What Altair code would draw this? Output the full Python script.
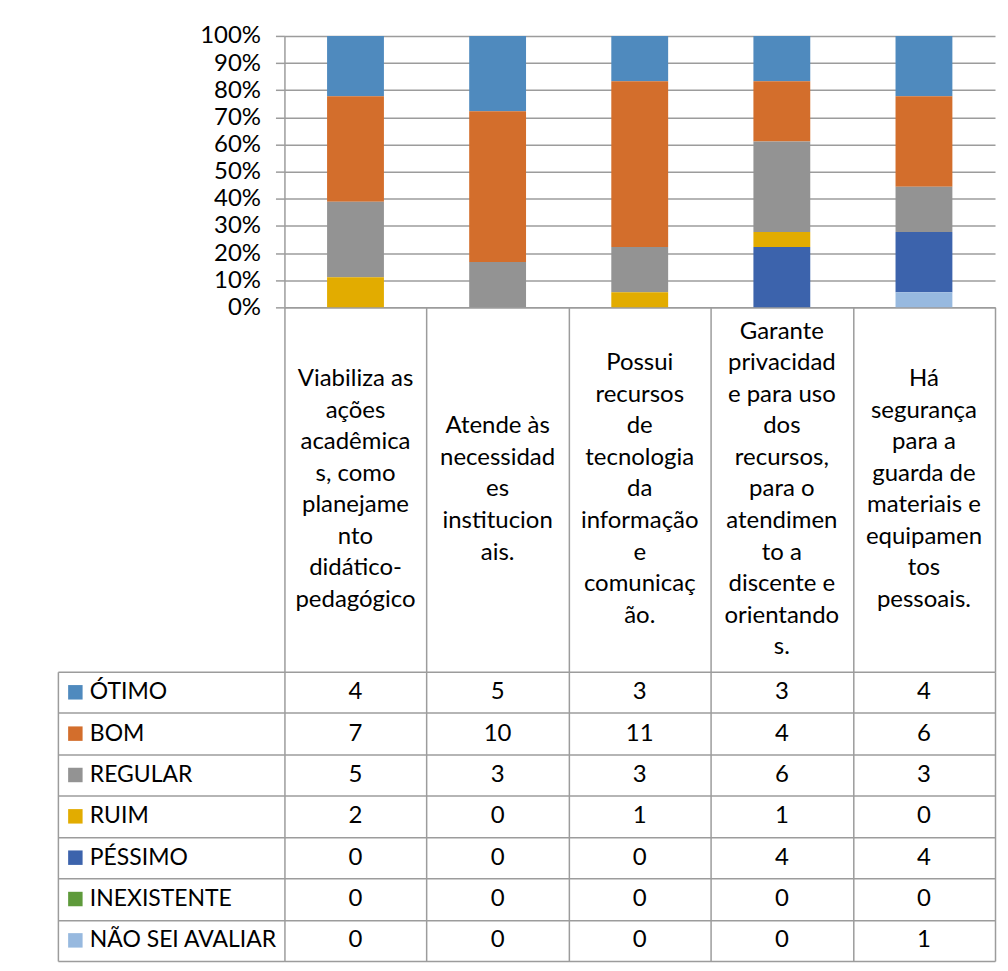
import altair as alt
import pandas as pd

# ---- data ----
categories = [
    "Viabiliza as\nações\nacadêmica\ns, como\nplanejame\nnto\ndidático-\npedagógico",
    "Atende às\nnecessidad\nes\ninstitucion\nais.",
    "Possui\nrecursos\nde\ntecnologia\nda\ninformação\ne\ncomunicaç\não.",
    "Garante\nprivacidad\ne para uso\ndos\nrecursos,\npara o\natendimen\nto a\ndiscente e\norientando\ns.",
    "Há\nsegurança\npara a\nguarda de\nmateriais e\nequipamen\ntos\npessoais.",
]
series = ["ÓTIMO", "BOM", "REGULAR", "RUIM", "PÉSSIMO", "INEXISTENTE", "NÃO SEI AVALIAR"]
otimo = [4, 5, 3, 3, 4]
bom = [7, 10, 11, 4, 6]
regular = [5, 3, 3, 6, 3]
ruim = [2, 0, 1, 1, 0]
pessimo = [0, 0, 0, 4, 4]
inexistente = [0, 0, 0, 0, 0]
nao_sei = [0, 0, 0, 0, 1]
colors = ["#4F8ABE", "#D36E2C", "#939393", "#E2AC00", "#3C63AC", "#5E9A3B", "#97B9DF"]

values_by_series = [otimo, bom, regular, ruim, pessimo, inexistente, nao_sei]
rows = []
for si, (s, vals) in enumerate(zip(series, values_by_series)):
    for c, v in zip(categories, vals):
        rows.append({"category": c, "series": s, "value": v, "rank": si})
df = pd.DataFrame(rows)

# one row per wrapped line of each category label
line_rows = []
for c in categories:
    parts = c.split("\n")
    for i, p in enumerate(parts):
        line_rows.append({"category": c, "line": p, "idx": i, "n": len(parts)})
lines_df = pd.DataFrame(line_rows)

FONT = "Lato"
FS = 24
LINE = "#9c9c9c"
LW = 1.5
LINE_H = 31.6
HDR_H = 365

color_scale = alt.Scale(domain=series, range=colors)

def spacer(h):
    return alt.Chart(pd.DataFrame({"a": [0]})).mark_point(opacity=0).properties(width=227, height=h)

# ---- stacked 100% bars ----
bars = alt.Chart(df).mark_bar().encode(
    x=alt.X("category:N", sort=categories,
            scale=alt.Scale(paddingInner=0.6, paddingOuter=0.3),
            axis=alt.Axis(labels=False, ticks=False, domain=True, domainColor=LINE,
                          domainWidth=LW, title=None)),
    y=alt.Y("value:Q", stack="normalize",
            scale=alt.Scale(domain=[0, 1]),
            axis=alt.Axis(format="%", values=[i / 10 for i in range(11)], tickSize=9,
                          tickColor=LINE, tickWidth=LW, gridColor=LINE, gridWidth=LW,
                          domainColor=LINE, domainWidth=LW, labelFont=FONT,
                          labelFontSize=FS, labelColor="black", labelPadding=15,
                          title=None)),
    color=alt.Color("series:N", scale=color_scale, legend=None),
    order=alt.Order("rank:Q", sort="descending"),
).properties(width=712, height=272)

# ---- header cells (category labels) ----
grid_x = alt.Axis(grid=True, tickBand="extent", labels=False, ticks=False, domain=False,
                  gridColor=LINE, gridWidth=LW, title=None)
grid_y = alt.Axis(grid=True, tickBand="extent", labels=False, ticks=False, domain=False,
                  gridColor=LINE, gridWidth=LW, title=None)

half = HDR_H / LINE_H / 2
header = alt.Chart(lines_df).transform_calculate(
    pos="(datum.n - 1) / 2 - datum.idx"
).mark_text(
    font=FONT, fontSize=FS, color="black", baseline="middle"
).encode(
    x=alt.X("category:N", sort=categories, scale=alt.Scale(paddingInner=0, paddingOuter=0), axis=grid_x),
    y=alt.Y("pos:Q", scale=alt.Scale(domain=[-half, half], nice=False, zero=False), axis=None),
    text="line:N",
).properties(width=712, height=HDR_H)

# ---- legend column ----
leg_base = alt.Chart(pd.DataFrame({"series": series})).encode(
    y=alt.Y("series:N", sort=series, scale=alt.Scale(paddingInner=0, paddingOuter=0),
            axis=alt.Axis(grid=True, tickBand="extent", labels=False, ticks=False, domain=True,
                          domainColor=LINE, domainWidth=LW, gridColor=LINE, gridWidth=LW,
                          title=None)),
)
swatch = leg_base.mark_square(size=210, opacity=1).encode(
    x=alt.value(17.5),
    color=alt.Color("series:N", scale=color_scale, legend=None),
)
leg_text = leg_base.mark_text(align="left", baseline="middle", font=FONT, fontSize=23, color="black").encode(
    x=alt.value(32),
    text="series:N",
)
legcol = alt.layer(swatch, leg_text).properties(width=227, height=290)

# ---- values table ----
table = alt.Chart(df).mark_text(font=FONT, fontSize=FS, color="black", baseline="middle").encode(
    x=alt.X("category:N", sort=categories, scale=alt.Scale(paddingInner=0, paddingOuter=0), axis=grid_x),
    y=alt.Y("series:N", sort=series, scale=alt.Scale(paddingInner=0, paddingOuter=0), axis=grid_y),
    text="value:Q",
).properties(width=712, height=290)

chart = alt.concat(
    spacer(272), bars,
    spacer(HDR_H), header,
    legcol, table,
    columns=2, spacing=0, bounds="flush", align="each",
).properties(
    padding={"left": 50, "top": 15, "right": 5, "bottom": 5}
).configure_view(stroke=None)

chart.save("out.html", embed_options={"renderer": "svg", "actions": False})
